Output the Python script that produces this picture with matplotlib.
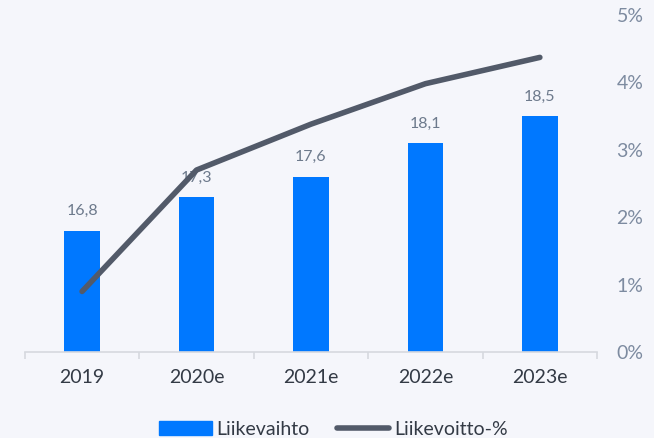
import matplotlib
matplotlib.use("Agg")
import matplotlib.pyplot as plt
from matplotlib.lines import Line2D
from matplotlib.patches import Patch

categories = ["2019", "2020e", "2021e", "2022e", "2023e"]
revenue = [16.8, 17.3, 17.6, 18.1, 18.5]
margin_pct = [0.9, 2.7, 3.38, 3.98, 4.37]
right_ticks = [0, 1, 2, 3, 4, 5]

plt.rcParams['font.family'] = ['Lato', 'DejaVu Sans']
bg = "#f5f6fb"
bar_color = "#0078ff"
line_color = "#525a69"

fig = plt.figure(figsize=(6.54, 4.38), dpi=100, facecolor=bg)
ax = fig.add_axes([0.038, 0.196, 0.875, 0.770])
ax.set_facecolor(bg)
x = list(range(len(categories)))
ax.bar(x, revenue, width=0.31, color=bar_color, zorder=2)
ax.set_ylim(15, 20)
ax.set_xlim(-0.5, len(categories) - 0.5)
for xi, v in zip(x, revenue):
    ax.annotate(f"{v:.1f}".replace(".", ","), (xi, v), xytext=(0, 9), textcoords="offset points",
                ha="center", va="bottom", fontsize=11.5, color="#6d7a8c", zorder=1)
ax.set_yticks([])
for s in ["top", "right", "left"]:
    ax.spines[s].set_visible(False)
ax.spines["bottom"].set_color("#d6d9df")
ax.spines["bottom"].set_linewidth(1.2)
ax.set_xticks([i - 0.5 for i in range(len(categories) + 1)], minor=True)
ax.set_xticks(x)
ax.set_xticklabels(categories, fontsize=14, color="#333a45")
ax.tick_params(axis="x", which="major", length=0, pad=12)
ax.tick_params(axis="x", which="minor", length=5, color="#d6d9df", width=1.2)

ax2 = ax.twinx()
ax2.plot(x, margin_pct, color=line_color, linewidth=4, solid_capstyle="round", zorder=3)
ax2.set_ylim(0, 5)
ax2.set_yticks(right_ticks)
ax2.set_yticklabels([f"{t}%" for t in right_ticks], fontsize=14, color="#7d8ba0")
ax2.tick_params(axis="y", length=0, pad=14)
for s in ["top", "right", "left", "bottom"]:
    ax2.spines[s].set_visible(False)

handles = [Patch(color=bar_color, label="Liikevaihto"),
           Line2D([0], [0], color=line_color, linewidth=4, solid_capstyle="round", label="Liikevoitto-%")]
fig.legend(handles=handles, loc="lower center", bbox_to_anchor=(0.51, -0.04), ncol=2, frameon=False,
           fontsize=14, handlelength=2.7, handletextpad=0.25, columnspacing=1.4,
           labelcolor="#333a45")

fig.savefig("out.png", dpi=100, facecolor=bg)
